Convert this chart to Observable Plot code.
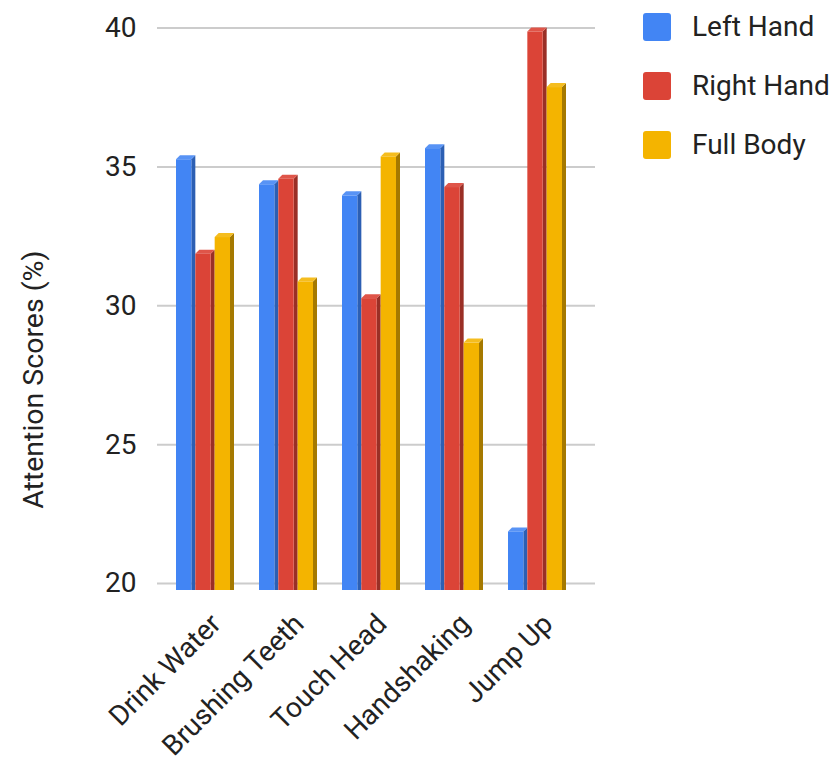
<!DOCTYPE html>
<html>
<head>
<meta charset="utf-8">
<script src="https://cdn.jsdelivr.net/npm/d3@7"></script>
<script src="https://cdn.jsdelivr.net/npm/@observablehq/plot@0.6"></script>
<style>
  html, body { margin: 0; padding: 0; background: #fff; }
  #wrap { position: relative; width: 840px; height: 763px; font-family: Roboto, "Noto Sans", sans-serif; }
  #legend { position: absolute; left: 643px; top: 13px; }
  .item { display: flex; align-items: center; height: 28px; margin-bottom: 31px; }
  .sw { width: 28px; height: 28px; border-radius: 3px; margin-right: 21px; }
  .lab { font-size: 28px; color: #222; line-height: 28px; white-space: nowrap; }
</style>
</head>
<body>
<div id="wrap"><div id="legend"></div></div>
<script>
// ---- data ----
const categories = ["Drink Water", "Brushing Teeth", "Touch Head", "Handshaking", "Jump Up"];
const seriesNames = ["Left Hand", "Right Hand", "Full Body"];
const leftHand  = [35.4, 34.5, 34.1, 35.8, 22.0];
const rightHand = [32.0, 34.7, 30.4, 34.4, 40.0];
const fullBody  = [32.6, 31.0, 35.5, 28.8, 38.0];
const yTicks = [20, 25, 30, 35, 40];
const yTitle = "Attention Scores (%)";

// ---- styles ----
const faceColors = ["#4285f4", "#db4437", "#f4b400"];
const sideColors = ["#2c5fb3", "#9a2f26", "#a57900"];
const topColors  = ["#5893f5", "#df5549", "#f5bd1f"];
const depth = 4;

const seriesValues = [leftHand, rightHand, fullBody];
const rows = [];
categories.forEach((c, ci) => {
  seriesNames.forEach((s, si) => rows.push({category: c, series: s, si, value: seriesValues[si][ci]}));
});

function bars3d(index, scales, values, dims, ctx) {
  const X = scales.x, Y = scales.y;
  let bw = X.bandwidth;
  if (typeof bw === "function") bw = bw();
  const pitch = bw / seriesNames.length;
  const fw = pitch - depth;
  const g = d3.create("svg:g");
  for (const i of index) {
    const r = rows[i];
    const x0 = X(r.category) + r.si * pitch;
    const x1 = x0 + fw;
    const yt = Y(r.value) + depth;
    const yb = Y(yTicks[0]) + depth + 3;
    g.append("path")
      .attr("d", `M${x1},${yt}L${x1 + depth},${yt - depth}L${x1 + depth},${yb}L${x1},${yb}Z`)
      .attr("fill", sideColors[r.si]);
    g.append("path")
      .attr("d", `M${x0},${yt}L${x0 + depth},${yt - depth}L${x1 + depth},${yt - depth}L${x1},${yt}Z`)
      .attr("fill", topColors[r.si]);
    g.append("rect")
      .attr("x", x0).attr("y", yt).attr("width", fw).attr("height", yb - yt)
      .attr("fill", faceColors[r.si]);
  }
  return g.node();
}

const chart = Plot.plot({
  width: 840,
  height: 763,
  marginLeft: 157,
  marginRight: 245,
  marginTop: 27.5,
  marginBottom: 180,
  style: {fontFamily: "Roboto, 'Noto Sans', sans-serif", color: "#222", background: "#fff", overflow: "visible"},
  x: {domain: categories, range: [163.25, 578.25], paddingInner: 0.3, paddingOuter: 0.15, axis: null},
  y: {domain: [20, 40], range: [583, 27.5], axis: null},
  marks: [
    Plot.ruleY(yTicks, {stroke: "#cccccc", strokeWidth: 2}),
    Plot.axisY({ticks: yTicks, tickSize: 0, tickPadding: 21, fontSize: 28, label: null, fill: "#222"}),
    Plot.barY(rows, {x: "category", y: "value", render: bars3d}),
    Plot.text(categories, {x: d => d, frameAnchor: "bottom", rotate: -45, textAnchor: "end", dx: 17, dy: 42, fontSize: 28, fill: "#222"}),
    Plot.text([yTitle], {frameAnchor: "left", rotate: -90, textAnchor: "middle", dx: -124, dy: 74, fontSize: 28.5, fill: "#222"})
  ]
});
document.getElementById("wrap").prepend(chart);

const legend = document.getElementById("legend");
seriesNames.forEach((s, i) => {
  const it = document.createElement("div");
  it.className = "item";
  it.innerHTML = `<div class="sw" style="background:${faceColors[i]}"></div><div class="lab">${s}</div>`;
  legend.appendChild(it);
});
</script>
</body>
</html>
